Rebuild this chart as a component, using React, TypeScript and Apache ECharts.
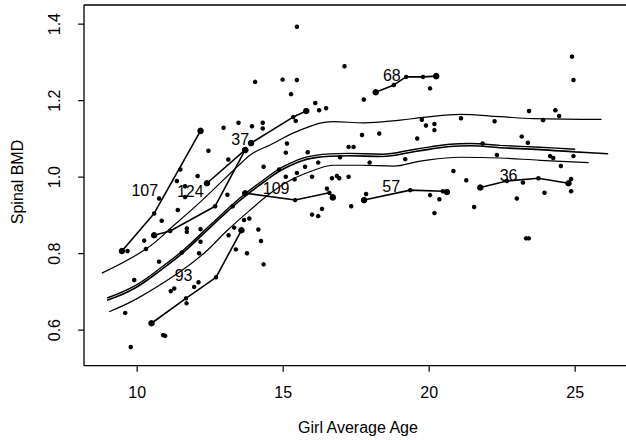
import React, { useEffect, useRef } from "react";
import * as echarts from "echarts";

const xTicks = [10, 15, 20, 25];
const yTicks = [0.6, 0.8, 1.0, 1.2, 1.4];

// individual measurements (age, spinal BMD)
const points: number[][] = [
  [15.47, 1.393], [14.04, 1.249], [14.98, 1.255], [15.47, 1.254], [15.27, 1.217],
  [16.10, 1.194], [16.23, 1.175], [16.47, 1.180], [17.10, 1.290], [17.76, 1.203],
  [20.03, 1.232], [24.89, 1.315], [24.94, 1.254], [12.96, 1.129], [13.47, 1.142],
  [13.93, 1.133], [14.30, 1.142], [14.30, 1.127], [15.43, 1.147], [12.44, 1.069],
  [13.12, 1.046], [15.13, 1.088], [15.09, 1.064], [15.84, 1.065], [14.33, 1.027],
  [12.07, 1.003], [11.36, 0.990], [11.64, 0.976], [11.64, 0.948], [13.09, 0.954],
  [11.39, 0.914], [10.84, 0.886], [13.66, 0.888], [13.84, 0.892], [13.27, 0.924],
  [9.67, 0.807], [10.24, 0.834], [11.70, 0.866], [11.70, 0.857], [12.17, 0.864],
  [10.30, 0.812], [12.17, 0.831], [11.53, 0.803], [12.12, 0.801], [10.75, 0.779],
  [9.90, 0.731], [9.59, 0.645], [9.78, 0.556], [10.89, 0.587], [10.96, 0.585],
  [11.15, 0.702], [11.27, 0.709], [11.95, 0.713], [12.10, 0.725], [11.69, 0.670],
  [13.13, 0.848], [13.32, 0.868], [13.38, 0.811], [13.76, 0.801], [14.15, 0.863],
  [14.24, 0.833], [14.33, 0.772], [17.70, 1.110], [18.29, 1.114], [19.59, 1.101],
  [17.24, 1.079], [17.41, 1.079], [16.95, 1.052], [15.75, 1.027], [16.20, 1.038],
  [14.86, 1.020], [17.96, 1.038], [19.18, 1.047], [15.47, 1.011], [15.09, 1.001],
  [15.99, 1.001], [15.39, 0.994], [16.67, 0.997], [16.84, 1.003], [16.92, 0.997],
  [17.24, 1.001], [16.50, 0.970], [17.84, 0.956], [20.03, 0.953], [20.35, 0.942],
  [16.33, 0.917], [15.99, 0.902], [16.20, 0.898], [17.33, 0.924], [20.18, 0.906],
  [21.54, 0.922], [23.32, 0.840], [23.41, 0.840], [19.75, 1.150], [19.89, 1.135],
  [20.18, 1.139], [20.18, 1.123], [21.09, 1.154], [22.24, 1.146], [23.42, 1.173],
  [24.32, 1.175], [24.45, 1.160], [23.90, 1.149], [23.17, 1.106], [23.38, 1.090],
  [21.83, 1.088], [22.32, 1.058], [24.14, 1.055], [24.25, 1.050], [24.94, 1.055],
  [24.51, 1.029], [20.83, 1.016], [21.27, 0.992], [23.00, 0.944], [23.95, 0.959],
  [24.86, 0.963], [10.75, 0.944], [11.48, 1.020], [23.21, 0.986], [24.86, 0.995],
];

// individual girls' trajectories
const girl107 = [[9.48, 0.807], [10.58, 0.905], [12.17, 1.121]];
const girl124 = [[12.39, 0.984], [13.70, 1.071]];
const girlOther = [[10.58, 0.848], [11.13, 0.859], [12.67, 0.924], [13.70, 1.071]];
const girl37 = [[13.90, 1.089], [15.34, 1.157], [15.79, 1.173]];
const girl93 = [[10.49, 0.618], [11.67, 0.683], [12.70, 0.738], [13.57, 0.861]];
const girl109 = [[13.70, 0.958], [15.41, 0.940], [16.58, 0.959], [16.70, 0.947]];
const girl68 = [[18.17, 1.222], [18.79, 1.241], [19.21, 1.262], [19.79, 1.262], [20.24, 1.264]];
const girl57 = [[17.77, 0.940], [19.35, 0.966], [20.47, 0.963], [20.61, 0.961]];
const girl36 = [[21.75, 0.973], [22.66, 0.990], [23.74, 0.997], [24.77, 0.984]];
const trajectories = [girl107, girl124, girlOther, girl37, girl93, girl109, girl68, girl57, girl36];

// fitted curves
const curveUpper = [
  [8.79, 0.749], [10.30, 0.812], [11.27, 0.875], [12.23, 0.940], [13.59, 1.039],
  [13.97, 1.063], [14.55, 1.084], [15.58, 1.123], [16.72, 1.145], [17.75, 1.142],
  [19.01, 1.149], [19.80, 1.156], [21.06, 1.164], [22.43, 1.158], [23.57, 1.153], [25.90, 1.151],
];
const curveMain = [
  [8.97, 0.678], [9.90, 0.709], [10.81, 0.757], [11.61, 0.805], [12.52, 0.870],
  [13.53, 0.940], [14.28, 0.984], [15.07, 1.024], [16.10, 1.051], [17.24, 1.056],
  [18.38, 1.054], [19.52, 1.067], [20.72, 1.080], [21.40, 1.082], [22.43, 1.077],
  [23.80, 1.072], [25.00, 1.066], [26.13, 1.061],
];
const curveBandHigh = [
  [8.97, 0.684], [9.90, 0.715], [10.81, 0.763], [11.61, 0.811], [12.52, 0.876],
  [13.53, 0.946], [14.28, 0.990], [15.07, 1.030], [16.10, 1.057], [17.24, 1.062],
  [18.38, 1.060], [19.52, 1.073], [20.72, 1.086], [21.40, 1.088], [22.43, 1.083],
  [23.80, 1.078], [25.00, 1.073],
];
const curveBandLow = [
  [9.04, 0.648], [10.01, 0.683], [11.38, 0.748], [12.29, 0.801], [13.09, 0.861],
  [13.87, 0.914], [14.55, 0.957], [15.24, 0.992], [16.27, 1.024], [16.72, 1.031],
  [17.64, 1.031], [18.78, 1.029], [19.69, 1.042], [21.06, 1.052], [22.43, 1.050],
  [23.80, 1.044], [25.46, 1.038],
];

const labelNames = ["107", "124", "37", "93", "109", "68", "57", "36"];
const labelAges = [10.26, 11.82, 13.53, 11.59, 14.76, 18.72, 18.70, 22.72];
const labelBmds = [0.964, 0.963, 1.098, 0.744, 0.969, 1.267, 0.975, 1.005];

// axis extents (slightly larger than the plot frame so frame & ticks sit inside)
const X_AXIS_MIN = 7.70;
const X_AXIS_MAX = 26.74;
const Y_AXIS_MIN = 0.4696;
const Y_AXIS_MAX = 1.4631;
// plot frame limits
const X_FRAME = 8.18;
const Y_FRAME_BOTTOM = 0.507;
const Y_FRAME_TOP = 1.45;
// tick lengths in axis units (about 6 px)
const TICK_X = 0.016;
const TICK_Y = 0.2;

const FONT = "Liberation Sans, Arial, Helvetica, sans-serif";
const BLACK = "#000";

export default function App() {
  const ref = useRef<HTMLDivElement>(null);
  useEffect(() => {
    if (!ref.current) return;
    const chart = echarts.init(ref.current, null, { renderer: "svg" });
    const trajSeries = trajectories.map((t) => ({
      type: "line",
      data: t,
      symbol: "circle",
      symbolSize: (_v: any, p: any) => (p.dataIndex === 0 || p.dataIndex === t.length - 1 ? 6.5 : 4.5),
      lineStyle: { color: BLACK, width: 1.6, opacity: 1 },
      itemStyle: { color: BLACK, opacity: 1 },
      silent: true,
      z: 3,
    }));
    const curve = (d: number[][], w: number) => ({
      type: "line",
      data: d,
      smooth: 0.4,
      symbol: "none",
      lineStyle: { color: BLACK, width: w, opacity: 1 },
      silent: true,
      z: 2,
    });
    const straight = (d: number[][], w: number) => ({
      type: "line",
      data: d,
      symbol: "none",
      clip: false,
      lineStyle: { color: BLACK, width: w, opacity: 1 },
      silent: true,
      z: 4,
    });
    const frame = straight(
      [[X_AXIS_MAX, Y_FRAME_TOP], [X_FRAME, Y_FRAME_TOP], [X_FRAME, Y_FRAME_BOTTOM], [X_AXIS_MAX, Y_FRAME_BOTTOM]],
      1.3,
    );
    const xTickLines = xTicks.map((v) => straight([[v, Y_FRAME_BOTTOM], [v, Y_FRAME_BOTTOM - TICK_X]], 1.2));
    const yTickLines = yTicks.map((v) => straight([[X_FRAME, v], [X_FRAME - TICK_Y, v]], 1.2));
    const option: any = {
      animation: false,
      grid: { left: 70, right: 0, top: 0, bottom: 60, outerBoundsMode: "none" },
      xAxis: {
        type: "value", min: X_AXIS_MIN, max: X_AXIS_MAX,
        splitLine: { show: false },
        axisLine: { show: false },
        axisTick: { show: false },
        axisLabel: { customValues: xTicks, margin: 4, color: BLACK, fontSize: 16, fontFamily: FONT },
        name: "Girl Average Age", nameLocation: "middle", nameGap: 39,
        nameTextStyle: { color: BLACK, fontSize: 16, fontFamily: FONT, padding: [0, 0, 0, 20] },
      },
      yAxis: {
        type: "value", min: Y_AXIS_MIN, max: Y_AXIS_MAX,
        splitLine: { show: false },
        axisLine: { show: false },
        axisTick: { show: false },
        axisLabel: {
          customValues: yTicks, rotate: 90, margin: 8, color: BLACK, fontSize: 16, fontFamily: FONT,
          formatter: (v: number) => v.toFixed(1),
        },
        name: "Spinal BMD", nameLocation: "middle", nameGap: 45, nameRotate: 90,
        nameTextStyle: { color: BLACK, fontSize: 16, fontFamily: FONT, padding: [0, 0, 0, 16] },
      },
      series: [
        frame,
        ...xTickLines,
        ...yTickLines,
        {
          type: "scatter", data: points, symbolSize: 4.5,
          itemStyle: { color: BLACK, opacity: 1 }, silent: true, z: 3,
        },
        ...trajSeries,
        curve(curveUpper, 1.2),
        curve(curveBandHigh, 1.4),
        curve(curveMain, 1.6),
        curve(curveBandLow, 1.2),
        {
          type: "scatter",
          data: labelNames.map((n, i) => [labelAges[i], labelBmds[i], n]),
          symbolSize: 1,
          itemStyle: { color: "rgba(0,0,0,0)", opacity: 1 },
          label: {
            show: true, position: "inside", formatter: (p: any) => p.value[2],
            color: BLACK, fontSize: 16, fontFamily: FONT,
          },
          silent: true,
          z: 5,
        },
      ],
    };
    chart.setOption(option);
    return () => chart.dispose();
  }, []);
  return <div ref={ref} style={{ position: "fixed", left: 0, top: 0, width: 626, height: 440, background: "#fff" }} />;
}
